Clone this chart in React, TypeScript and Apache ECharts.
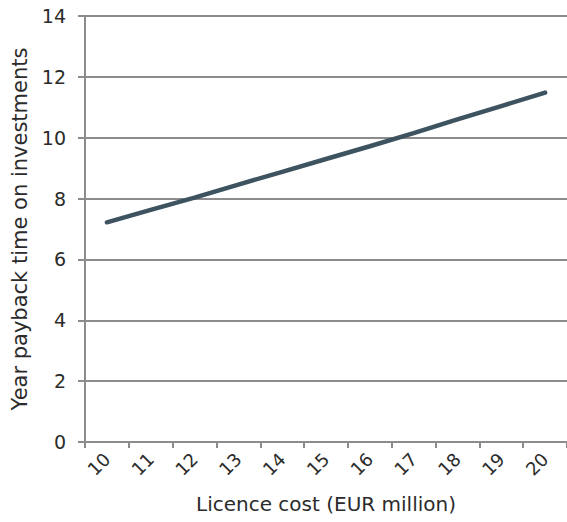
import React, { useEffect, useRef } from "react";
import * as echarts from "echarts";

const categories = ["10", "11", "12", "13", "14", "15", "16", "17", "18", "19", "20"];
const paybackYears = [7.22, 7.63, 8.03, 8.46, 8.88, 9.3, 9.72, 10.15, 10.6, 11.04, 11.48];
const yTicks = { min: 0, max: 14, interval: 2 };

const FONT = "'DejaVu Sans', sans-serif";
const GRID_GRAY = "#8c8c8c";
const TEXT = "#2b2b2b";

export default function App() {
  const ref = useRef<HTMLDivElement>(null);
  useEffect(() => {
    if (!ref.current) return;
    const chart = echarts.init(ref.current, null, { renderer: "svg" });
    chart.setOption({
      animation: false,
      backgroundColor: "#ffffff",
      grid: { left: 85, right: -2, top: 16, bottom: 80, containLabel: false },
      xAxis: {
        type: "category",
        data: categories,
        boundaryGap: true,
        name: "Licence cost (EUR million)",
        nameLocation: "middle",
        nameGap: 52,
        nameTextStyle: { fontFamily: FONT, fontSize: 20, color: TEXT },
        axisLine: { show: true, lineStyle: { color: GRID_GRAY, width: 2 } },
        axisTick: { show: true, length: 6, lineStyle: { color: GRID_GRAY, width: 2 } },
        axisLabel: { rotate: 45, margin: 14, fontFamily: FONT, fontSize: 18, color: TEXT },
        splitLine: { show: false },
      },
      yAxis: {
        type: "value",
        min: yTicks.min,
        max: yTicks.max,
        interval: yTicks.interval,
        name: "Year payback time on investments",
        nameLocation: "middle",
        nameRotate: 90,
        nameGap: 52,
        nameTextStyle: { fontFamily: FONT, fontSize: 21, color: TEXT },
        axisLine: { show: true, lineStyle: { color: GRID_GRAY, width: 2 } },
        axisTick: { show: true, inside: false, length: 7, lineStyle: { color: GRID_GRAY, width: 2 } },
        axisLabel: { margin: 19, fontFamily: FONT, fontSize: 19, color: TEXT },
        splitLine: { show: true, lineStyle: { color: GRID_GRAY, width: 2 } },
      },
      series: [
        {
          type: "line",
          data: paybackYears,
          symbol: "none",
          lineStyle: { color: "#3e5360", width: 4.5, cap: "round" },
          z: 5,
        },
      ],
    });
    return () => chart.dispose();
  }, []);
  return (
    <div
      ref={ref}
      style={{ position: "fixed", left: 0, top: 0, width: 567, height: 522, background: "#fff" }}
    />
  );
}
